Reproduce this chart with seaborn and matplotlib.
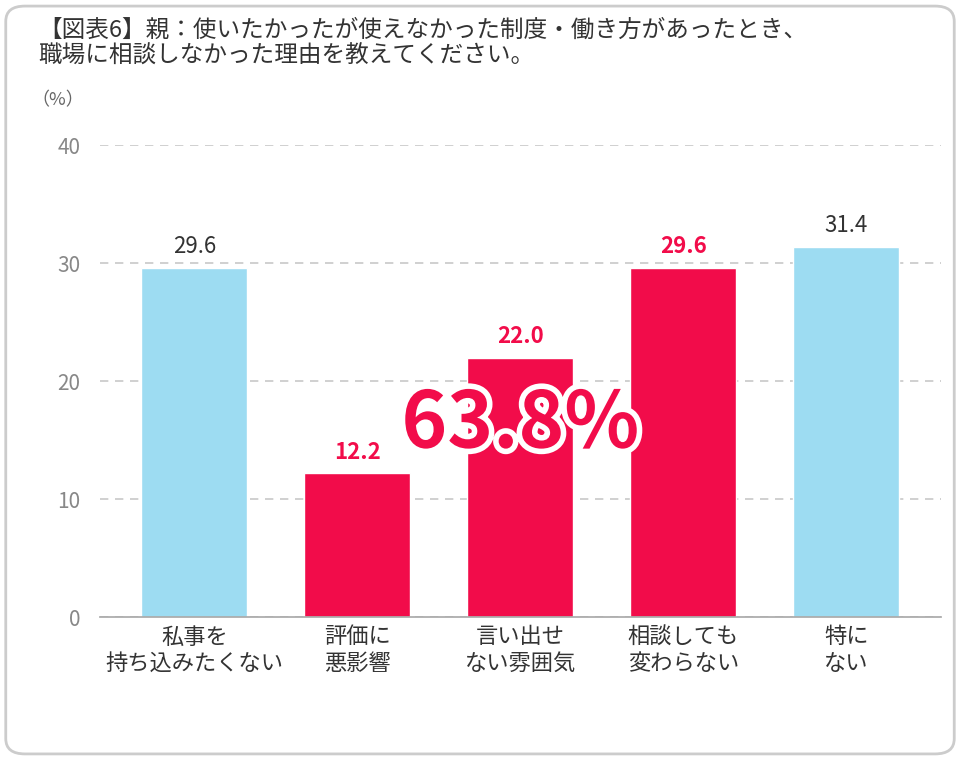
import matplotlib
matplotlib.use("Agg")
import matplotlib.pyplot as plt
import matplotlib.patheffects as pe
from matplotlib.patches import FancyBboxPatch
import seaborn as sns
import pandas as pd

categories = ["私事を\n持ち込みたくない", "評価に\n悪影響", "言い出せ\nない雰囲気", "相談しても\n変わらない", "特に\nない"]
values = [29.6, 12.2, 22.0, 29.6, 31.4]
highlight = [False, True, True, True, False]
yticks = [0, 10, 20, 30, 40]

BLUE = "#9DDCF2"
RED = "#F20C4A"

sns.set_theme(style="white")
plt.rcParams["font.family"] = ["Noto Sans CJK JP", "DejaVu Sans"]

df = pd.DataFrame({"cat": categories, "val": values})
colors = [RED if h else BLUE for h in highlight]

fig = plt.figure(figsize=(9.6, 7.6), dpi=100)
ax = fig.add_axes([0.104, 0.188, 0.876, 0.621])
sns.barplot(data=df, x="cat", y="val", hue="cat", palette=colors, legend=False,
            width=0.65, saturation=1, ax=ax)

ax.set_ylim(0, 40)
ax.set_yticks(yticks)
ax.set_xlim(-0.58, 4.58)
ax.yaxis.grid(True, linestyle=(0, (5, 4)), color="#C8C8C8", linewidth=1.2)
ax.set_axisbelow(True)
for s in ["left", "right", "top"]:
    ax.spines[s].set_visible(False)
ax.spines["bottom"].set_color("#AAAAAA")
ax.tick_params(axis="y", colors="#888888", labelsize=15, length=0, pad=14)
ax.tick_params(axis="x", colors="#333333", labelsize=16, length=0, pad=6)
for t in ax.get_yticklabels():
    t.set_color("#888888")
ax.set_xlabel("")
ax.set_ylabel("")

for i, (v, h) in enumerate(zip(values, highlight)):
    ax.text(i, v + 0.8, f"{v:.1f}", ha="center", va="bottom", fontsize=16,
            color=RED if h else "#333333", fontweight="bold" if h else "normal")

ax.text(2.0, 16.3, "63.8%", ha="center", va="center", fontsize=56, fontweight="bold",
        color=RED, path_effects=[pe.withStroke(linewidth=8, foreground="white")])

fig.text(0.033, 0.862, "（%）", fontsize=13, color="#666666")
fig.text(0.04, 0.975, "【図表6】親：使いたかったが使えなかった制度・働き方があったとき、\n職場に相談しなかった理由を教えてください。",
         fontsize=17, color="#333333", va="top", linespacing=1.15)

frame = FancyBboxPatch((0.006, 0.008), 0.988, 0.984, boxstyle="round,pad=0,rounding_size=0.02",
                       transform=fig.transFigure, fill=False, edgecolor="#CCCCCC", linewidth=2)
fig.patches.append(frame)

fig.savefig("out.png", dpi=100)
